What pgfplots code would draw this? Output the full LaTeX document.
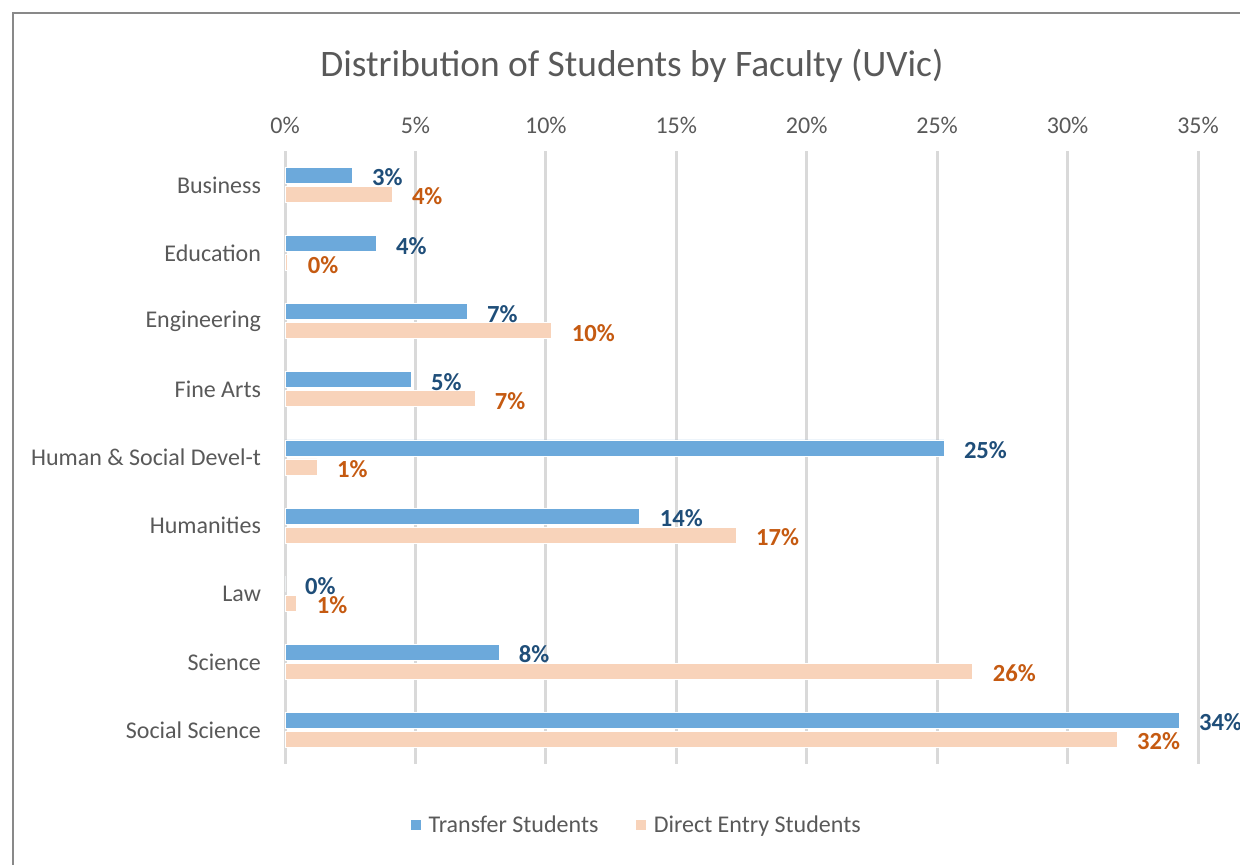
\documentclass[border=0pt]{standalone}
\usepackage{fontspec}
\setmainfont{Carlito}
\usepackage{pgfplots}
\pgfplotsset{compat=1.18}
\definecolor{tblue}{HTML}{6CA9DB}
\definecolor{dpeach}{HTML}{F8D3BA}
\definecolor{tbluetxt}{HTML}{1F4E79}
\definecolor{dpeachtxt}{HTML}{C55A11}
\definecolor{labelgrey}{HTML}{595959}
\definecolor{gridgrey}{HTML}{D9D9D9}
\definecolor{framegrey}{HTML}{898989}
\begin{document}
\begin{tikzpicture}
\path[use as bounding box] (0pt,0pt) rectangle (620pt,432.5pt);
\draw[color=framegrey, line width=1pt] (6.6pt,-2pt) -- (6.6pt,425.8pt) -- (622pt,425.8pt);
\node[font=\fontsize{18.7}{22}\selectfont, text=labelgrey] at (316pt,399.5pt) {Distribution of Students by Faculty (UVic)};
\begin{axis}[
  at={(142.5pt,50.5pt)}, anchor=south west,
  scale only axis, width=456.5pt, height=306.5pt,
  xbar, xmin=0, xmax=35, ymin=-0.5, ymax=8.5,
  bar width=8pt,
  axis line style={draw=none}, major tick length=0pt,
  xtick={0,5,...,35},
  xticklabel={\pgfmathprintnumber{\tick}\%},
  xticklabel pos=top,
  xticklabel style={yshift=5pt},
  yticklabel style={xshift=-8.5pt},
  xmajorgrids, grid style={color=gridgrey, line width=1.5pt},
  ytick={0,...,8},
  yticklabels={Social Science,Science,Law,Humanities,Human \& Social Devel-t,Fine Arts,Engineering,Education,Business},
  ticklabel style={font=\fontsize{12}{14}\selectfont, text=labelgrey},
  /pgf/number format/assume math mode=true,
  point meta=explicit symbolic,
  nodes near coords,
  nodes near coords style={font=\bfseries\fontsize{12.3}{14}\selectfont, anchor=west, xshift=6.5pt, yshift=-1pt},
  legend columns=2,
  legend style={draw=none, at={(0.3866,-0.101)}, anchor=center,
    font=\fontsize{12}{14}\selectfont, text=labelgrey,
    /tikz/every even column/.append style={column sep=17pt}},
  legend image code/.code={\fill[#1, draw=none] (0pt,-2.2pt) rectangle (5pt,2.8pt); \path (6.5pt,0pt);},
]
\addplot[fill=tblue, draw=white, line width=0.4pt, bar shift=4.75pt,
  nodes near coords style={text=tbluetxt}] coordinates {
  (34.27,0) [34\%]
  (8.2,1) [8\%]
  (0,2) [0\%]
  (13.6,3) [14\%]
  (25.26,4) [25\%]
  (4.83,5) [5\%]
  (6.98,6) [7\%]
  (3.49,7) [4\%]
  (2.57,8) [3\%]
};
\addplot[fill=dpeach, draw=white, line width=0.4pt, bar shift=-4.75pt,
  nodes near coords style={text=dpeachtxt}] coordinates {
  (31.9,0) [32\%]
  (26.37,1) [26\%]
  (0.45,2) [1\%]
  (17.29,3) [17\%]
  (1.23,4) [1\%]
  (7.28,5) [7\%]
  (10.23,6) [10\%]
  (0.11,7) [0\%]
  (4.1,8) [4\%]
};
\legend{Transfer Students, Direct Entry Students}
\end{axis}
\end{tikzpicture}
\end{document}
